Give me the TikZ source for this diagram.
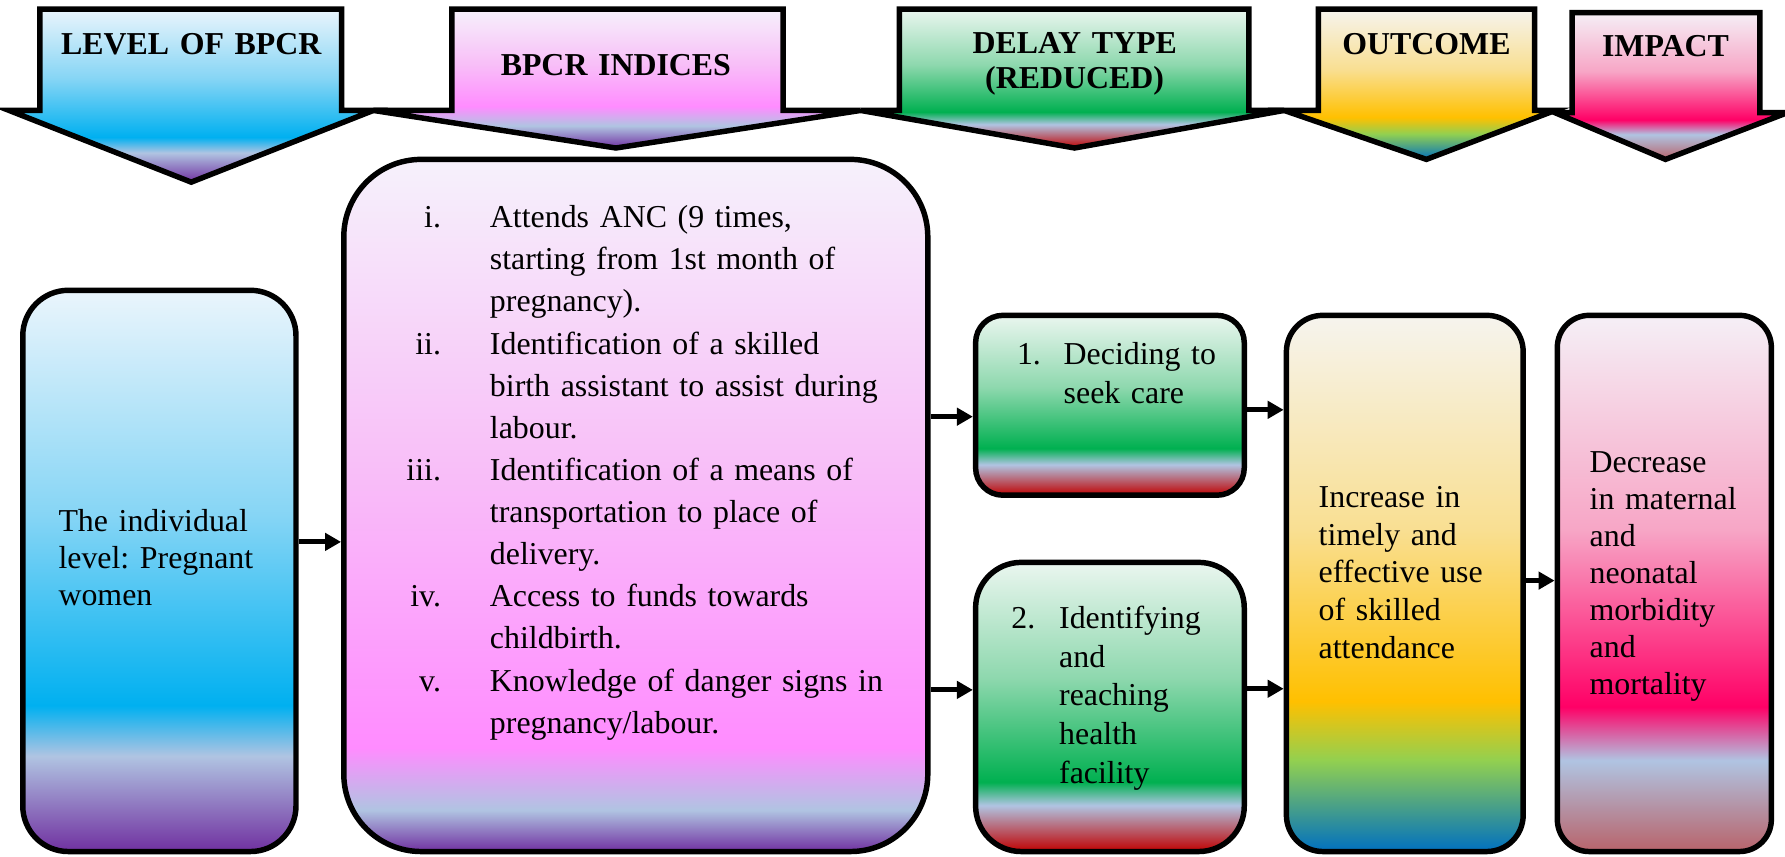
\documentclass[tikz,border=0pt]{standalone}
\usepackage{fontspec}
\setmainfont{Liberation Serif}
\usetikzlibrary{arrows.meta,fit}

\definecolor{blueTop}{HTML}{EAF5FC}
\definecolor{blueMid}{HTML}{86D5F5}
\definecolor{blueMain}{HTML}{00B0F0}
\definecolor{lilac}{HTML}{B0C4E2}
\definecolor{purpleB}{HTML}{7030A0}
\definecolor{pinkTop}{HTML}{F6F1FB}
\definecolor{pinkMid}{HTML}{F8BEF8}
\definecolor{pinkMain}{HTML}{FF8CFF}
\definecolor{greenTop}{HTML}{EAF6EF}
\definecolor{greenMid}{HTML}{8ED8AE}
\definecolor{greenMain}{HTML}{00B050}
\definecolor{redB}{HTML}{C00000}
\definecolor{yelTop}{HTML}{F6F4EE}
\definecolor{yelMid}{HTML}{F9DF92}
\definecolor{yelMain}{HTML}{FFC000}
\definecolor{yelGreen}{HTML}{92D050}
\definecolor{yelBlue}{HTML}{0070C0}
\definecolor{roseTop}{HTML}{F5EFF6}
\definecolor{roseMid}{HTML}{F7A6C6}
\definecolor{roseMain}{HTML}{FF0066}
\definecolor{roseBot}{HTML}{B8636A}

% name, top, mid, main, second, bottom, pos mid, pos main, pos second
\newcommand\mkshade[9]{%
  \pgfdeclareverticalshading{#1}{100bp}{color(0bp)=(#6); color(25bp)=(#6);
    color(#9bp)=(#5); color(#8bp)=(#4); color(#7bp)=(#3);
    color(75bp)=(#2); color(100bp)=(#2)}}

\mkshade{shBlue}{blueTop}{blueMid}{blueMain}{lilac}{purpleB}{55}{38}{33.5}
\mkshade{shPink}{pinkTop}{pinkMid}{pinkMain}{lilac}{purpleB}{52.5}{32.5}{28}
\mkshade{shPinkH}{pinkTop}{pinkMid}{pinkMain}{lilac}{purpleB}{55}{40}{33}
\mkshade{shGreen}{greenTop}{greenMid}{greenMain}{lilac}{redB}{55}{38}{33.5}
\mkshade{shGreenB}{greenTop}{greenMid}{greenMain}{lilac}{redB}{55}{37}{33}
\mkshade{shYel}{yelTop}{yelMid}{yelMain}{yelGreen}{yelBlue}{55}{39}{33.5}
\mkshade{shRose}{roseTop}{roseMid}{roseMain}{lilac}{roseBot}{55}{38.5}{33.5}

\newcommand\itemlab[2]{\leavevmode\llap{#1\hspace{#2}}}

\begin{document}
\frenchspacing
\begin{tikzpicture}[x=0.5pt,y=-0.5pt,
  harrow/.style={draw=black, line width=2.4pt, line join=miter},
  box/.style={draw=black, line width=2.4pt, inner sep=0pt},
  conn/.style={line width=2.2pt, -{Triangle[length=7pt,width=7.5pt]}},
  head/.style={inner sep=0pt, anchor=base, align=center, text width=160pt,
    font=\fontsize{14pt}{15.5pt}\selectfont\bfseries},
  txt/.style={inner sep=0pt, anchor=base west, align=left, text width=#1},
  txt/.default=120pt]
\fill[white] (0,0) rectangle (1568,752);
\useasboundingbox (0,0) rectangle (1568,752);

% header arrows
\draw[harrow, shading=shBlue] (35,8) -- (300,8) -- (300,97) -- (328,97) -- (168,160) -- (8,97) -- (35,97) -- cycle;
\draw[harrow, shading=shPinkH] (397,8) -- (688,8) -- (688,97) -- (756,97) -- (541,130) -- (328,97) -- (397,97) -- cycle;
\draw[harrow, shading=shGreen] (790,8) -- (1097,8) -- (1097,97) -- (1128,97) -- (944,130) -- (756,97) -- (790,97) -- cycle;
\draw[harrow, shading=shYel] (1158,8) -- (1348,8) -- (1348,97) -- (1366,97) -- (1253,140) -- (1128,97) -- (1158,97) -- cycle;
\draw[harrow, shading=shRose] (1381,11) -- (1546,11) -- (1546,99) -- (1570,99) -- (1463,140) -- (1366,99) -- (1381,99) -- cycle;

\node[head] (hA) at (168,48) {LEVEL OF BPCR};
\node[head] (hB) at (541,66) {BPCR INDICES};
\node[head] (hC) at (944,47) {DELAY TYPE\\(REDUCED)};
\node[head] (hD) at (1253,48) {OUTCOME};
\node[head] (hE) at (1463,50) {IMPACT};

% boxes
\node[box, rounded corners=20pt, shading=shBlue, fit={(20,255)(260,748)}] (A) {};
\node[box, rounded corners=34pt, shading=shPink, fit={(302,140)(815,748)}] (B) {};
\node[box, rounded corners=12pt, shading=shGreen, fit={(857,277)(1093,435)}] (C1) {};
\node[box, rounded corners=20pt, shading=shGreenB, fit={(857,494)(1093,748)}] (C2) {};
\node[box, rounded corners=16pt, shading=shYel, fit={(1130,277)(1338,748)}] (D) {};
\node[box, rounded corners=14pt, shading=shRose, fit={(1368,277)(1556,748)}] (E) {};

% texts
\node[txt, font=\fontsize{14pt}{16.25pt}\selectfont] (tA) at (51,467)
  {The individual\\level: Pregnant\\women};
\node[txt=200pt, font=\fontsize{14pt}{18.5pt}\selectfont] (tB) at (430,200)
  {\itemlab{i.}{21.5pt}Attends ANC (9 times,\\
   starting from 1st month of\\
   pregnancy).\\
   \itemlab{ii.}{21.5pt}Identification of a skilled\\
   birth assistant to assist during\\
   labour.\\
   \itemlab{iii.}{21.5pt}Identification of a means of\\
   transportation to place of\\
   delivery.\\
   \itemlab{iv.}{21.5pt}Access to funds towards\\
   childbirth.\\
   \itemlab{v.}{21.5pt}Knowledge of danger signs in\\
   pregnancy/labour.};
\node[txt, font=\fontsize{14pt}{17pt}\selectfont] (tC1) at (934,320)
  {\itemlab{1.}{10pt}Deciding to\\seek care};
\node[txt, font=\fontsize{14pt}{17pt}\selectfont] (tC2) at (930,552)
  {\itemlab{2.}{10.5pt}Identifying\\and\\reaching\\health\\facility};
\node[txt, font=\fontsize{14pt}{16.5pt}\selectfont] (tD) at (1158,446)
  {Increase in\\timely and\\effective use\\of skilled\\attendance};
\node[txt, font=\fontsize{14pt}{16.25pt}\selectfont] (tE) at (1396,415)
  {Decrease\\in maternal\\and\\neonatal\\morbidity\\and\\mortality};

% connectors
\coordinate (ab) at ([yshift=-16pt]B.west);
\coordinate (bc1) at ([yshift=-5pt]C1.west);
\coordinate (bc2) at ([yshift=7.5pt]C2.west);
\coordinate (c1d) at ([yshift=76.25pt]D.west);
\coordinate (c2d) at ([yshift=-46.25pt]D.west);
\coordinate (de) at ([yshift=1.25pt]E.west);
\draw[conn] (A.east |- ab) -- (ab);
\draw[conn] (B.east |- bc1) -- (bc1);
\draw[conn] (B.east |- bc2) -- (bc2);
\draw[conn] (C1.east |- c1d) -- (c1d);
\draw[conn] (C2.east |- c2d) -- (c2d);
\draw[conn] (D.east |- de) -- (de);
\end{tikzpicture}
\end{document}
